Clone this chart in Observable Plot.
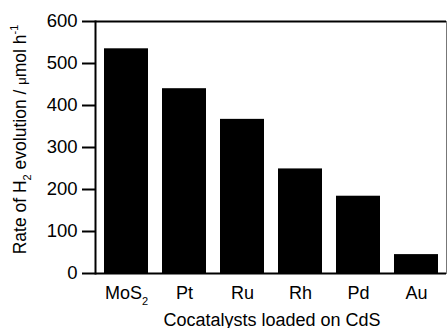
<!DOCTYPE html>
<html><head><meta charset="utf-8">
<script src="https://cdn.jsdelivr.net/npm/d3@7"></script>
<script src="https://cdn.jsdelivr.net/npm/@observablehq/plot@0.6"></script>
<style>body{margin:0;background:#fff}</style>
</head><body><div id="chart"></div>
<script>
const categories = ["MoS2", "Pt", "Ru", "Rh", "Pd", "Au"];
const rates = [535, 440, 367, 249, 184, 45];
const yTicks = [0, 100, 200, 300, 400, 500, 600];
const xTitle = "Cocatalysts loaded on CdS";
const yTitle = "Rate of H2 evolution / μmol h-1";

const data = categories.map((c, i) => ({cat: c, rate: rates[i]}));

const plot = Plot.plot({
  width: 448, height: 328,
  marginLeft: 95, marginRight: 2, marginTop: 21, marginBottom: 55,
  style: {fontFamily: "'Liberation Sans', Arial, sans-serif", fontSize: "18px", color: "#000", background: "#fff"},
  x: {domain: categories, paddingInner: 0.25, paddingOuter: 0.11, axis: null},
  y: {domain: [0, 600], axis: null},
  marks: [
    Plot.frame({stroke: "#777", strokeWidth: 1}),
    Plot.barY(data, {x: "cat", y: "rate", fill: "#000"}),
    Plot.ruleY([0, 600], {stroke: "#000", strokeWidth: 2}),
    Plot.frame({anchor: "left", stroke: "#000", strokeWidth: 2}),
    Plot.axisY({ticks: yTicks, tickSize: 13, tickPadding: 5, strokeWidth: 2, label: null, fontSize: 18.5}),
    Plot.axisX({tickSize: 0, tickPadding: 13, label: null, fontSize: 18}),
    Plot.text([xTitle], {frameAnchor: "bottom", dx: 1, dy: 52, lineAnchor: "bottom", fontSize: 18}),
    Plot.text([yTitle], {frameAnchor: "left", dx: -75, dy: -8, rotate: -90, textAnchor: "middle", lineAnchor: "middle", fontSize: 17.5})
  ]
});

d3.select(plot).selectAll("text").each(function() {
  const t = this.textContent;
  if (t === "MoS2") {
    this.innerHTML = 'MoS<tspan font-size="11" dy="6">2</tspan>';
  } else if (t === yTitle) {
    this.innerHTML = 'Rate of H<tspan font-size="11" dy="5">2</tspan><tspan dy="-5"> evolution / </tspan><tspan font-size="13">μ</tspan><tspan>mol h</tspan><tspan font-size="11" dy="-8">-1</tspan>';
  }
});

document.getElementById("chart").appendChild(plot);
</script>
</body></html>
